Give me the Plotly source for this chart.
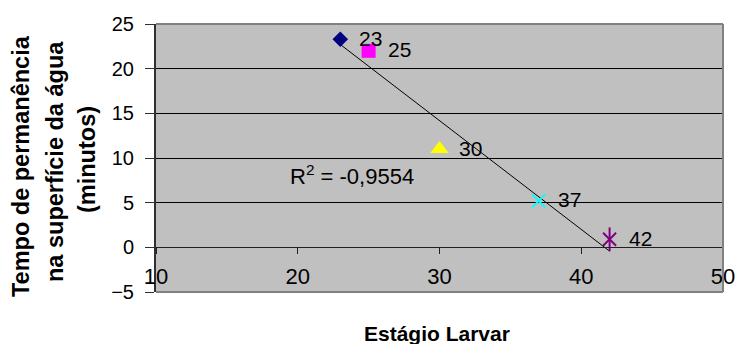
import numpy as np
import plotly.graph_objects as go

# Larval stage vs. time spent at the water surface
estagio = [23, 25, 30, 37, 42]
tempo = [23.3, 22.0, 11.0, 5.2, 0.9]
rotulos = [str(v) for v in estagio]
cores = ["#000080", "#FF00FF", "#FFFF00", "#00FFFF", "#800080"]
simbolos = ["diamond", "square", "triangle-up", "x-thin", "x-thin"]
tamanhos = [12, 14, 16, 13, 13]

x_ticks = [10, 20, 30, 40, 50]
y_ticks = [-5, 0, 5, 10, 15, 20, 25]
r2_texto = "R<sup>2</sup> = -0,9554"
titulo_x = "Estágio Larvar"
titulo_y = ["Tempo de permanência", "na superfície da água", "(minutos)"]

FONT = "Liberation Sans, Arial, sans-serif"
W, H = 736, 344
ML, MR, MT, MB = 156, 13, 24, 52
PW = W - ML - MR
PH = H - MT - MB


def px_x(p):
    return (p - ML) / PW


def px_y(p):
    return (H - MB - p) / PH


fig = go.Figure()

# linear trendline over the data span
coef = np.polyfit(estagio, tempo, 1)
xt = np.array([min(estagio), max(estagio)])
fig.add_trace(go.Scatter(x=xt, y=np.polyval(coef, xt), mode="lines",
                         line=dict(color="black", width=1), hoverinfo="skip"))

for i in range(len(estagio)):
    if simbolos[i] == "x-thin":
        fig.add_trace(go.Scatter(
            x=[estagio[i]], y=[tempo[i]], mode="markers",
            marker=dict(symbol="x-thin", size=tamanhos[i],
                        line=dict(color=cores[i], width=2))))
        if i == len(estagio) - 1:
            # vertical stroke that turns the cross into a star
            fig.add_trace(go.Scatter(
                x=[estagio[i]], y=[tempo[i]], mode="markers",
                marker=dict(symbol="line-ns", size=17,
                            line=dict(color=cores[i], width=2))))
    else:
        fig.add_trace(go.Scatter(
            x=[estagio[i]], y=[tempo[i]], mode="markers",
            marker=dict(symbol=simbolos[i], size=tamanhos[i], color=cores[i],
                        line=dict(width=0))))

anns = []
for xv, yv, t in zip(estagio, tempo, rotulos):
    anns.append(dict(x=xv, y=yv, xref="x", yref="y", text=t, showarrow=False,
                     xanchor="left", yanchor="middle", xshift=17, yshift=1,
                     font=dict(family=FONT, size=21, color="black")))

anns.append(dict(x=px_x(288), y=px_y(175), xref="paper", yref="paper",
                 text=r2_texto, showarrow=False, xanchor="left", yanchor="middle",
                 font=dict(family=FONT, size=22, color="black")))

anns.append(dict(x=px_x(437), y=px_y(333), xref="paper", yref="paper",
                 text="<b>" + titulo_x + "</b>", showarrow=False,
                 xanchor="center", yanchor="middle",
                 font=dict(family=FONT, size=21, color="black")))

for cx, cy, t in zip([21, 55, 87], [166, 162, 160], titulo_y):
    anns.append(dict(x=px_x(cx), y=px_y(cy), xref="paper", yref="paper",
                     text="<b>" + t + "</b>", showarrow=False, textangle=-90,
                     xanchor="center", yanchor="middle",
                     font=dict(family=FONT, size=23.5, color="black")))

# plot-area frame: top, right and bottom edges
shapes = [
    dict(type="line", xref="paper", yref="paper", x0=0, x1=1, y0=1, y1=1,
         line=dict(color="#808080", width=2)),
    dict(type="line", xref="paper", yref="paper", x0=1, x1=1, y0=0, y1=1,
         line=dict(color="#808080", width=2)),
    dict(type="line", xref="paper", yref="paper", x0=0, x1=1, y0=0, y1=0,
         line=dict(color="#808080", width=2)),
]

y0 = y_ticks[0]
y1 = y_ticks[-1]

fig.update_layout(
    width=W, height=H,
    margin=dict(l=ML, r=MR, t=MT, b=MB, pad=0, autoexpand=False),
    paper_bgcolor="white",
    plot_bgcolor="#C0C0C0",
    showlegend=False,
    annotations=anns,
    shapes=shapes,
    xaxis=dict(range=[x_ticks[0], x_ticks[-1]], tickvals=x_ticks,
               showgrid=False, zeroline=False, automargin=False,
               anchor="free", position=(0 - y0) / (y1 - y0),
               showline=True, linecolor="#202020", linewidth=1,
               ticks="outside", ticklen=6, tickcolor="#202020", tickwidth=1,
               ticklabelstandoff=3,
               tickfont=dict(family=FONT, size=22, color="black")),
    yaxis=dict(range=[y0, y1], tickvals=y_ticks, automargin=False,
               showgrid=True, gridcolor="black", gridwidth=1, zeroline=False,
               showline=True, linecolor="#303030", linewidth=2,
               ticks="outside", ticklen=9, tickcolor="#303030", tickwidth=1,
               ticklabelstandoff=7,
               tickfont=dict(family=FONT, size=20, color="black")),
)

fig.write_html("out.html")
